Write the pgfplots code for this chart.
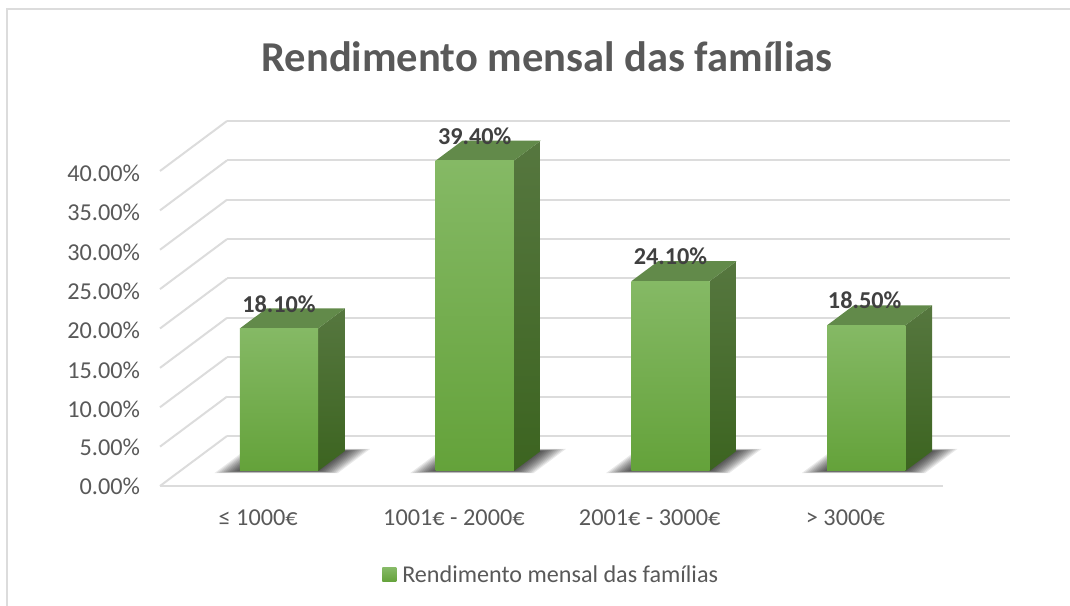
\documentclass[border=0pt]{standalone}
\usepackage{pgfplots}
\pgfplotsset{compat=1.18}
\usepackage{fontspec}
\setmainfont{Carlito}
\definecolor{frontT}{HTML}{85B965}
\definecolor{frontM}{HTML}{70B043}
\definecolor{frontB}{HTML}{64A23A}
\definecolor{sideT}{HTML}{56773F}
\definecolor{sideB}{HTML}{3C6420}
\definecolor{topc}{HTML}{628A4A}
\definecolor{gridc}{HTML}{DCDCDC}
\definecolor{txt}{HTML}{595959}
\definecolor{lab}{HTML}{404040}
\newcommand{\Shadow}[2]{%
  \pgfplotsinvokeforeach{0.115,0.105,0.095,0.085,0.075,0.065,0.055,0.045,0.035,0.025,0.015,0.005}{%
    \addplot3[draw=none,fill=black,fill opacity=0.085,forget plot]
      coordinates {(#1-##1,0.3-0.35*##1,0)(#2+##1,0.3-0.35*##1,0)(#2+##1,0.7+0.35*##1,0)(#1-##1,0.7+0.35*##1,0)} --cycle;
  }%
}
\newcommand{\Bar}[3]{%
  \addplot3[draw=none,top color=sideT,bottom color=sideB,forget plot]
    coordinates {(#2,0.3,0)(#2,0.7,0)(#2,0.7,#3)(#2,0.3,#3)} --cycle;
  \addplot3[draw=none,fill=topc,forget plot]
    coordinates {(#1,0.3,#3)(#2,0.3,#3)(#2,0.7,#3)(#1,0.7,#3)} --cycle;
  \addplot3[draw=none,top color=frontT,middle color=frontM,bottom color=frontB,forget plot]
    coordinates {(#1,0.3,0)(#2,0.3,0)(#2,0.3,#3)(#1,0.3,#3)} --cycle;
}
\begin{document}
\begin{tikzpicture}
\useasboundingbox (-120pt,-90pt) rectangle (682.5pt,364.5pt);
\draw[gridc,line width=1.5pt] (-114.5pt,-90pt) -- (-114.5pt,358pt) -- (682.5pt,358pt);
\begin{axis}[
  anchor=origin, at={(0,0)},
  x={(146.8125pt,0pt)}, y={(50.25pt,37.5pt)}, z={(0pt,5.90625pt)},
  xmin=0,xmax=4,ymin=0,ymax=1,zmin=0,zmax=40,
  clip=false,
  axis line style={draw=none},
  major tick length=0pt,
  zmajorgrids=true, xmajorgrids=false, ymajorgrids=false,
  major grid style={draw=gridc,line width=1.5pt},
  xtick={0.5,1.5,2.5,3.5},
  xticklabels={≤ 1000€,1001€ - 2000€,2001€ - 3000€,> 3000€},
  ytick=\empty,
  ztick={0,5,...,40},
  zticklabel={\pgfmathprintnumber[fixed,fixed zerofill,precision=2,assume math mode=true]{\tick}\%},
  tick label style={font=\fontsize{18.2}{21}\selectfont,text=txt},
  xticklabel pos=lower, zticklabel pos=left,
  xticklabel style={yshift=-14pt,xshift=5pt},
  zticklabel style={xshift=-11.5pt,yshift=8.5pt},
  legend style={draw=none,fill=none,at={(axis cs:2,0,-11.3)},anchor=center,
    font=\fontsize{18.1}{21}\selectfont,text=txt,
    legend cell align=left,inner sep=0pt},
]
\addplot3[gridc,line width=1.5pt,forget plot] coordinates {(0,0,0)(4,0,0)};
\Shadow{0.305}{0.705}
\Shadow{1.305}{1.705}
\Shadow{2.305}{2.705}
\Shadow{3.305}{3.705}
\Bar{0.305}{0.705}{18.1}
\Bar{1.305}{1.705}{39.4}
\Bar{2.305}{2.705}{24.1}
\Bar{3.305}{3.705}{18.5}
\addplot3[draw=none,mark=none,forget plot,
  nodes near coords,point meta=explicit symbolic,
  nodes near coords style={font=\bfseries\fontsize{18.2}{21}\selectfont,text=lab,anchor=center,yshift=18.5pt}]
  coordinates {
  (0.505,0.3,18.1)[18.10\%]
  (1.505,0.3,39.4)[39.40\%]
  (2.505,0.3,24.1)[24.10\%]
  (3.497,0.3,18.5)[18.50\%]};
\addlegendimage{legend image code/.code={\path[draw=none,top color=frontT,bottom color=frontB] (0pt,-5.2pt) rectangle (10.5pt,5.3pt);}}
\addlegendentry{\hspace{2.5pt}Rendimento mensal das famílias}
\end{axis}
\node[font=\bfseries\fontsize{31.9}{36}\selectfont,text=txt] at (290.25pt,322pt) {Rendimento mensal das famílias};
\end{tikzpicture}
\end{document}
